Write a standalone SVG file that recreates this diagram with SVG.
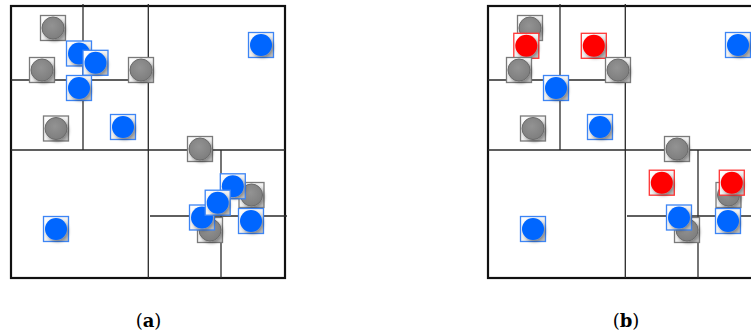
<svg xmlns="http://www.w3.org/2000/svg" width="751" height="335" viewBox="0 0 751 335">
<defs>
<linearGradient id="sqg" x1="0" y1="0" x2="1" y2="1">
<stop offset="0" stop-color="#ffffff"/><stop offset="0.5" stop-color="#f2f2f2"/><stop offset="1" stop-color="#b8b8b8"/>
</linearGradient>
<radialGradient id="gg" cx="0.45" cy="0.4" r="0.6">
<stop offset="0" stop-color="#939393"/><stop offset="1" stop-color="#7e7e7e"/>
</radialGradient>
<filter id="sh" x="-40%" y="-40%" width="180%" height="180%">
<feDropShadow dx="1.5" dy="2" stdDeviation="1.4" flood-color="#000" flood-opacity="0.35"/>
</filter>
</defs>
<style>
.box{fill:#fff;stroke:#111;stroke-width:2.2}
.ln{stroke:#2a2a2a;stroke-width:1.3;fill:none}
.sq{fill:url(#sqg);stroke-width:1.3}
.g .sq{stroke:#7a7a7a}
.b .sq{stroke:#3d85f5}
.r .sq{stroke:#ff3535}
.c{filter:url(#sh)}
.g .c{fill:url(#gg);stroke:#6a6a6a;stroke-width:1}
.b .c{fill:#0066ff}
.r .c{fill:#ff0000}
.lab{font-family:"DejaVu Serif",serif;font-size:18px;text-anchor:middle;fill:#000}
</style>
<rect width="751" height="335" fill="#fff"/>

<g id="panel-a">
<rect class="box" x="11" y="6" width="274" height="272"/>
<g id="lines-a">
<line class="ln" x1="148.3" y1="4" x2="148.3" y2="278"/>
<line class="ln" x1="11" y1="150" x2="285" y2="150"/>
<line class="ln" x1="83" y1="4" x2="83" y2="150"/>
<line class="ln" x1="11" y1="80" x2="148.3" y2="80"/>
<line class="ln" x1="221" y1="150" x2="221" y2="278"/>
<line class="ln" x1="150" y1="216" x2="287" y2="216"/>
</g>
<g id="a-g1" class="g"><rect class="sq" x="40.5" y="15.5" width="25" height="25"/><circle class="c" cx="53" cy="28" r="11"/></g>
<g id="a-g2" class="g"><rect class="sq" x="29.5" y="57.5" width="25" height="25"/><circle class="c" cx="42" cy="70" r="11"/></g>
<g id="a-g3" class="g"><rect class="sq" x="128.5" y="57.5" width="25" height="25"/><circle class="c" cx="141" cy="70" r="11"/></g>
<g id="a-g4" class="g"><rect class="sq" x="43.5" y="116" width="25" height="25"/><circle class="c" cx="56" cy="128.5" r="11"/></g>
<g id="a-g5" class="g"><rect class="sq" x="187.5" y="136.5" width="25" height="25"/><circle class="c" cx="200" cy="149" r="11"/></g>
<g id="a-g6" class="g"><rect class="sq" x="239" y="182.5" width="25" height="25"/><circle class="c" cx="251.5" cy="195" r="11"/></g>
<g id="a-g7" class="g"><rect class="sq" x="197.5" y="217.5" width="25" height="25"/><circle class="c" cx="210" cy="230" r="11"/></g>
<g id="a-b1" class="b"><rect class="sq" x="248.5" y="32.5" width="25" height="25"/><circle class="c" cx="261" cy="45" r="11"/></g>
<g id="a-b2" class="b"><rect class="sq" x="66.5" y="41" width="25" height="25"/><circle class="c" cx="79" cy="53.5" r="11"/></g>
<g id="a-b3" class="b"><rect class="sq" x="83" y="50.3" width="25" height="25"/><circle class="c" cx="95.5" cy="62.8" r="11"/></g>
<g id="a-b4" class="b"><rect class="sq" x="66.5" y="75.5" width="25" height="25"/><circle class="c" cx="79" cy="88" r="11"/></g>
<g id="a-b5" class="b"><rect class="sq" x="110.5" y="114.5" width="25" height="25"/><circle class="c" cx="123" cy="127" r="11"/></g>
<g id="a-b6" class="b"><rect class="sq" x="43.5" y="216.5" width="25" height="25"/><circle class="c" cx="56" cy="229" r="11"/></g>
<g id="a-b10" class="b"><rect class="sq" x="238.5" y="208.5" width="25" height="25"/><circle class="c" cx="251" cy="221" r="11"/></g>
<g id="a-b7" class="b"><rect class="sq" x="220.3" y="173.8" width="25" height="25"/><circle class="c" cx="232.8" cy="186.3" r="11"/></g>
<g id="a-b9" class="b"><rect class="sq" x="189.5" y="205" width="25" height="25"/><circle class="c" cx="202" cy="217.5" r="11"/></g>
<g id="a-b8" class="b"><rect class="sq" x="205.2" y="190.2" width="25" height="25"/><circle class="c" cx="217.7" cy="202.7" r="11"/></g>
</g>

<g id="panel-b">
<rect class="box" x="488" y="6" width="274" height="272"/>
<g id="lines-b">
<line class="ln" x1="625.3" y1="4" x2="625.3" y2="278"/>
<line class="ln" x1="488" y1="150" x2="762" y2="150"/>
<line class="ln" x1="560" y1="4" x2="560" y2="150"/>
<line class="ln" x1="488" y1="80" x2="625.3" y2="80"/>
<line class="ln" x1="698" y1="150" x2="698" y2="278"/>
<line class="ln" x1="627" y1="216" x2="764" y2="216"/>
</g>
<g id="b-g1" class="g"><rect class="sq" x="517.5" y="15.5" width="25" height="25"/><circle class="c" cx="530" cy="28" r="11"/></g>
<g id="b-r1" class="r"><rect class="sq" x="513.8" y="33.3" width="25" height="25"/><circle class="c" cx="526.3" cy="45.8" r="11"/></g>
<g id="b-g2" class="g"><rect class="sq" x="506.5" y="57.5" width="25" height="25"/><circle class="c" cx="519" cy="70" r="11"/></g>
<g id="b-r2" class="r"><rect class="sq" x="581.3" y="33.3" width="25" height="25"/><circle class="c" cx="593.8" cy="45.8" r="11"/></g>
<g id="b-g3" class="g"><rect class="sq" x="605.5" y="57.5" width="25" height="25"/><circle class="c" cx="618" cy="70" r="11"/></g>
<g id="b-g4" class="g"><rect class="sq" x="520.5" y="116" width="25" height="25"/><circle class="c" cx="533" cy="128.5" r="11"/></g>
<g id="b-g5" class="g"><rect class="sq" x="664.5" y="136.5" width="25" height="25"/><circle class="c" cx="677" cy="149" r="11"/></g>
<g id="b-g6" class="g"><rect class="sq" x="716" y="182.5" width="25" height="25"/><circle class="c" cx="728.5" cy="195" r="11"/></g>
<g id="b-g7" class="g"><rect class="sq" x="674.5" y="217.5" width="25" height="25"/><circle class="c" cx="687" cy="230" r="11"/></g>
<g id="b-b1" class="b"><rect class="sq" x="725.5" y="32.5" width="25" height="25"/><circle class="c" cx="738" cy="45" r="11"/></g>
<g id="b-b4" class="b"><rect class="sq" x="543.5" y="75.5" width="25" height="25"/><circle class="c" cx="556" cy="88" r="11"/></g>
<g id="b-b5" class="b"><rect class="sq" x="587.5" y="114.5" width="25" height="25"/><circle class="c" cx="600" cy="127" r="11"/></g>
<g id="b-b6" class="b"><rect class="sq" x="520.5" y="216.5" width="25" height="25"/><circle class="c" cx="533" cy="229" r="11"/></g>
<g id="b-r3" class="r"><rect class="sq" x="649.3" y="170.2" width="25" height="25"/><circle class="c" cx="661.8" cy="182.7" r="11"/></g>
<g id="b-r4" class="r"><rect class="sq" x="719.3" y="170.2" width="25" height="25"/><circle class="c" cx="731.8" cy="182.7" r="11"/></g>
<g id="b-b10" class="b"><rect class="sq" x="715.5" y="208.5" width="25" height="25"/><circle class="c" cx="728" cy="221" r="11"/></g>
<g id="b-b9" class="b"><rect class="sq" x="666.5" y="205" width="25" height="25"/><circle class="c" cx="679" cy="217.5" r="11"/></g>
</g>

<text class="lab" x="148.5" y="327">(<tspan font-weight="bold">a</tspan>)</text>
<text class="lab" x="626" y="327">(<tspan font-weight="bold">b</tspan>)</text>
</svg>
